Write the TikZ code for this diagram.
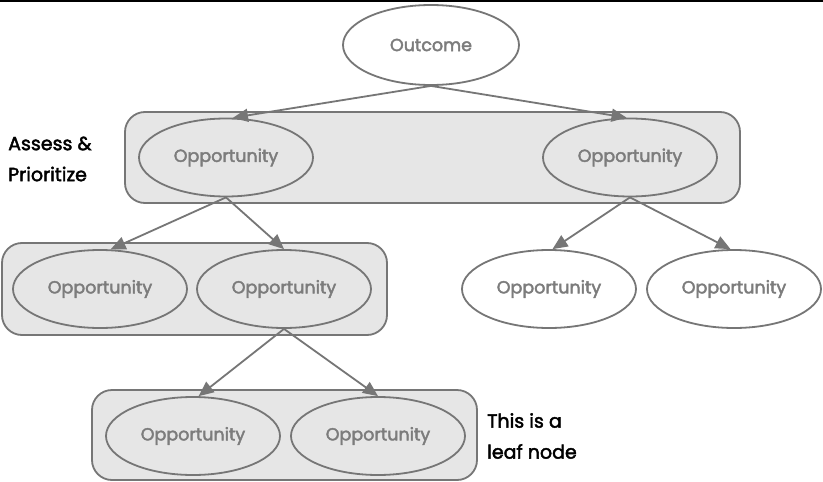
\documentclass[tikz,border=0pt]{standalone}
\usepackage{fontspec}
\setmainfont{Poppins}
\newfontfamily\oppfont[FakeBold=2.4]{Poppins}
\newfontfamily\lblfont[FakeBold=2.2]{Poppins}
\usetikzlibrary{shapes.geometric,arrows.meta}
\definecolor{edgegray}{HTML}{767676}
\definecolor{textgray}{HTML}{7C7C7C}
\definecolor{boxfill}{HTML}{E6E6E6}
\tikzset{
  opp/.style={ellipse, draw=edgegray, line width=1.8pt, minimum width=174pt, minimum height=78pt, inner sep=0pt, text=textgray, font=\oppfont\fontsize{17.5}{20}\selectfont},
  grp/.style={draw=edgegray, line width=1.8pt, fill=boxfill, rounded corners=20pt},
  link/.style={draw=edgegray, line width=1.8pt, -{Triangle[length=15pt,width=13pt]}},
  lbl/.style={align=left, anchor=west, font=\lblfont\fontsize{19}{31}\selectfont, text=black, inner sep=0pt}
}
\begin{document}
\begin{tikzpicture}[x=1pt,y=-1pt]
\useasboundingbox (0,0) rectangle (823,482);
\fill[white] (0,0) rectangle (823,482);
\fill[black] (0,0) rectangle (823,1.6);
% group boxes
\path[grp] (125,112) rectangle (740,203);
\path[grp] (2,243) rectangle (387,335);
\path[grp] (92,390) rectangle (477,480);
% nodes
\node[opp, minimum width=176pt, minimum height=80pt, fill=white] (out) at (431,45) {Outcome};
\node[opp, fill=boxfill] (o1) at (226,157.5) {Opportunity};
\node[opp, fill=boxfill] (o2) at (630,157.5) {Opportunity};
\node[opp, fill=boxfill] (o3) at (100,289) {Opportunity};
\node[opp, fill=boxfill] (o4) at (284,289) {Opportunity};
\node[opp, fill=white] (o7) at (549,289) {Opportunity};
\node[opp, fill=white] (o8) at (734,289) {Opportunity};
\node[opp, fill=boxfill] (o5) at (193,436) {Opportunity};
\node[opp, fill=boxfill] (o6) at (378,436) {Opportunity};
% labels
\node[lbl] (lab1) at (8,159) {Assess \&\\Prioritize};
\node[lbl] (lab2) at (487,436) {This is a\\leaf node};
% connectors
\draw[link] (out.south) -- (o1.80);
\draw[link] (out.south) -- (o2.95);
\draw[link] (o1.south) -- (o3.75);
\draw[link] (o1.south) -- (o4.north);
\draw[link] (o2.south) -- (o7.85);
\draw[link] (o2.south) -- (o8.95);
\draw[link] (o4.south) -- (o5.82);
\draw[link] (o4.south) -- (o6.north);
\end{tikzpicture}
\end{document}
